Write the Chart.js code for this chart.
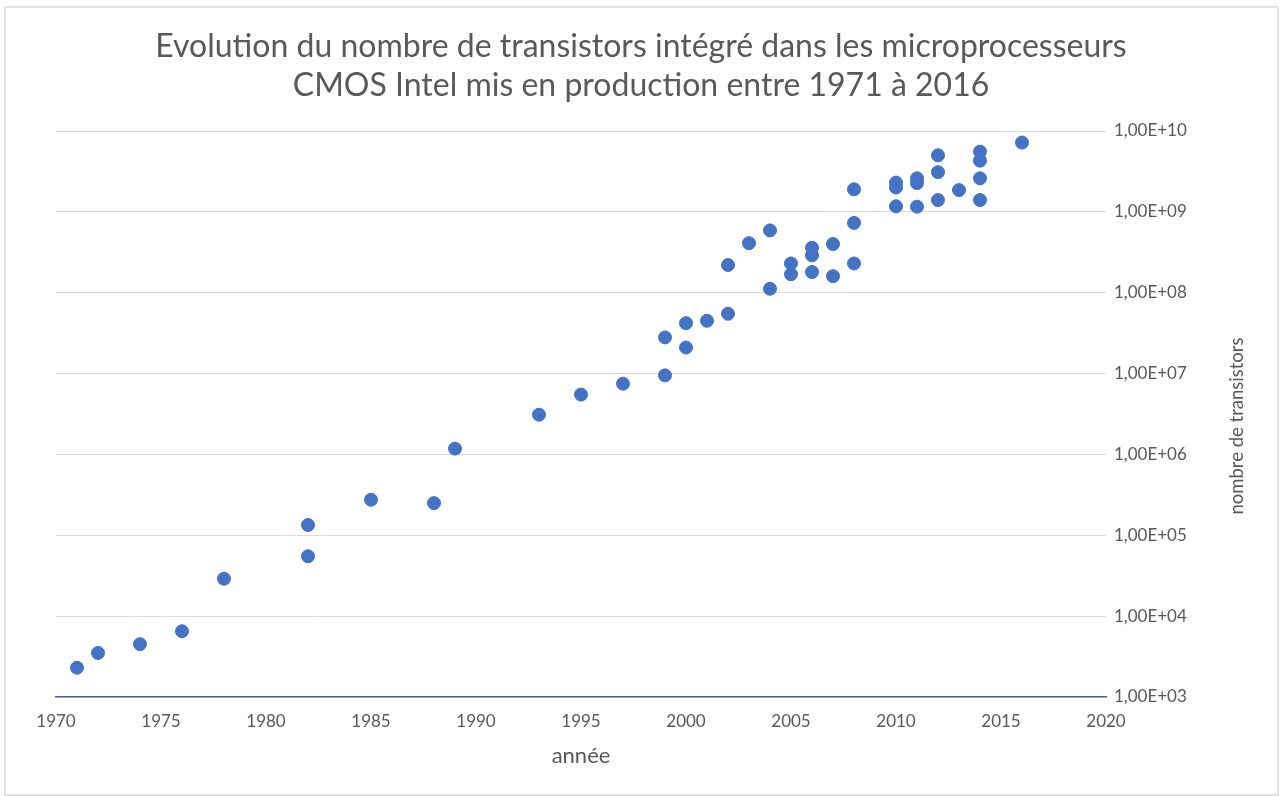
<!DOCTYPE html>
<html>
<head>
<meta charset="utf-8">
<script src="https://cdn.jsdelivr.net/npm/chart.js@4/dist/chart.umd.min.js"></script>
<style>
  html, body { margin: 0; padding: 0; background: #fff; }
  #wrap { position: relative; width: 1282px; height: 796px; }
  #frame { position: absolute; left: 4px; top: 6px; width: 1271px; height: 786px; border: 2px solid #e2e2e2; pointer-events: none; }
</style>
</head>
<body>
<div id="wrap">
  <canvas id="myChart" width="1282" height="796"></canvas>
  <div id="frame"></div>
</div>
<script>
// années et nombre de transistors
const years = [
  1971, 1972, 1974, 1976, 1978,
  1982, 1982, 1985, 1988, 1989,
  1993, 1995, 1997, 1999, 1999,
  2000, 2000, 2001, 2002, 2002,
  2003, 2004, 2004, 2005, 2005,
  2006, 2006, 2006, 2007, 2007,
  2008, 2008, 2008, 2010, 2010, 2010,
  2011, 2011, 2011, 2012, 2012, 2012,
  2013, 2014, 2014, 2014, 2014, 2016
];
const transistors = [
  2300, 3500, 4500, 6500, 29000,
  55000, 134000, 275000, 250000, 1180000,
  3100000, 5500000, 7500000, 9500000, 28000000,
  21000000, 42000000, 45000000, 55000000, 220000000,
  410000000, 112000000, 590000000, 230000000, 169000000,
  360000000, 290000000, 180000000, 400000000, 160000000,
  1900000000, 730000000, 230000000, 2300000000, 2000000000, 1170000000,
  2600000000, 2270000000, 1160000000, 5000000000, 3100000000, 1400000000,
  1860000000, 5560000000, 4300000000, 2600000000, 1400000000, 7200000000
];
const yTicks = [1e3, 1e4, 1e5, 1e6, 1e7, 1e8, 1e9, 1e10];
const yTickLabels = ['1,00E+03', '1,00E+04', '1,00E+05', '1,00E+06', '1,00E+07', '1,00E+08', '1,00E+09', '1,00E+10'];
const titleLines = ['Evolution du nombre de transistors intégré dans les microprocesseurs',
                    'CMOS Intel mis en production entre 1971 à 2016'];

const textGray = '#595959';
const fontName = 'Lato, "Open Sans", sans-serif';

const points = years.map((y, i) => ({ x: y, y: transistors[i] }));

// titre centré sur toute la largeur + titre de l'axe vertical lu de bas en haut
const textPlugin = {
  id: 'texts',
  afterDraw(chart) {
    const ctx = chart.ctx;
    ctx.save();
    ctx.fillStyle = textGray;
    ctx.textAlign = 'center';
    ctx.textBaseline = 'middle';
    ctx.font = '32px ' + fontName;
    ctx.fillText(titleLines[0], 641, 47);
    ctx.fillText(titleLines[1], 641, 86);

    ctx.translate(1237, 426);
    ctx.rotate(-Math.PI / 2);
    ctx.font = '18.5px ' + fontName;
    ctx.fillText('nombre de transistors', 0, 0);
    ctx.restore();
  }
};

const ctx = document.getElementById('myChart').getContext('2d');
const myChart = new Chart(ctx, {
  type: 'scatter',
  data: {
    datasets: [{
      label: 'transistors',
      data: points,
      backgroundColor: '#4472c4',
      borderColor: '#4472c4',
      pointRadius: 6.5,
      pointHoverRadius: 6.5
    }]
  },
  options: {
    responsive: false,
    animation: false,
    layout: { padding: { left: 56, right: 0, top: 131, bottom: 0 } },
    plugins: {
      legend: { display: false },
      tooltip: { enabled: false },
      title: { display: false }
    },
    scales: {
      x: {
        type: 'linear',
        min: 1970,
        max: 2020,
        ticks: {
          stepSize: 5,
          color: textGray,
          padding: 14,
          font: { family: fontName, size: 17 },
          callback: v => String(v)
        },
        grid: { display: false, drawTicks: false },
        border: { display: true, color: '#4a66a0', width: 1.5 },
        title: {
          display: true,
          text: 'année',
          color: textGray,
          font: { family: fontName, size: 22 },
          padding: { top: 4, bottom: 27 }
        },
        afterFit(scale) { scale.paddingLeft = 0; scale.paddingRight = 0; scale.height = 99; }
      },
      y: {
        type: 'logarithmic',
        position: 'right',
        min: 1e3,
        max: 1e10,
        afterBuildTicks(scale) { scale.ticks = yTicks.map(v => ({ value: v })); },
        ticks: {
          color: textGray,
          padding: 8,
          font: { family: fontName, size: 17 },
          callback: (v) => yTickLabels[yTicks.indexOf(v)]
        },
        grid: { color: '#d9d9d9', drawTicks: false },
        border: { display: false },
        afterFit(scale) { scale.width = 176; }
      }
    }
  },
  plugins: [textPlugin]
});
</script>
</body>
</html>
